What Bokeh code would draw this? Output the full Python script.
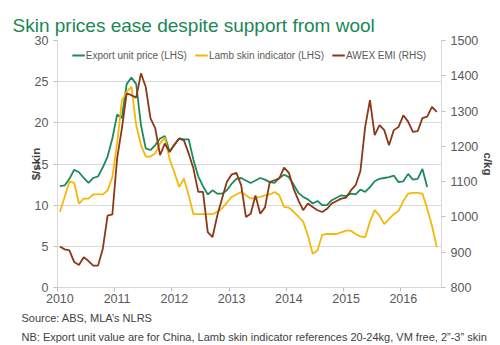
import numpy as np
from bokeh.plotting import figure
from bokeh.models import Range1d, LinearAxis, FixedTicker, Title, Legend, LegendItem
from bokeh.embed import file_html
from bokeh.resources import INLINE

# ---- data (monthly, starting January 2010) ----
years = [2010, 2011, 2012, 2013, 2014, 2015, 2016]

export_unit_price = [
    12.3, 12.4, 13.2, 14.3, 14.0, 13.3, 12.7, 13.3, 13.5, 14.6,
    15.9, 18.1, 21.0, 20.6, 24.7, 25.5, 24.7, 19.7, 16.9, 16.7,
    17.3, 18.1, 18.4, 16.5, 17.3, 18.1, 18.0, 18.0, 15.5, 13.5,
    12.3, 11.3, 11.8, 11.4, 11.4, 11.8, 12.6, 13.2, 13.3, 13.0,
    12.7, 13.0, 13.3, 13.1, 12.8, 12.7, 13.3, 13.7, 13.4, 12.5,
    11.5, 11.0, 10.7, 10.2, 10.5, 10.0, 10.0, 10.6, 10.9, 11.2,
    11.1, 11.4, 11.3, 11.9, 11.6, 12.2, 12.9, 13.2, 13.3, 13.4,
    13.6, 12.8, 12.9, 13.8, 13.1, 13.2, 14.4, 12.2]

lamb_skin_indicator = [
    9.2, 11.0, 12.9, 12.7, 10.2, 10.8, 10.8, 11.3, 11.3, 11.3,
    11.8, 13.4, 17.5, 22.7, 23.8, 24.4, 19.7, 17.3, 15.9, 15.9,
    16.3, 17.5, 18.2, 15.6, 14.0, 12.2, 13.2, 11.2, 8.9, 8.9,
    8.9, 8.9, 8.9, 9.2, 9.6, 10.3, 11.0, 11.3, 11.6, 11.2,
    10.8, 10.9, 11.0, 11.2, 11.3, 11.6, 11.2, 9.8, 9.7, 9.2,
    8.6, 8.0, 6.3, 4.1, 4.5, 6.4, 6.5, 6.5, 6.5, 6.7,
    6.9, 6.9, 6.5, 6.2, 6.1, 8.0, 9.4, 8.7, 7.7, 8.3,
    8.9, 9.3, 10.5, 11.4, 11.5, 11.5, 11.4, 9.6, 7.5, 4.9]

awex_emi = [
    916, 908, 905, 872, 864, 886, 875, 862, 862, 910,
    1004, 1007, 1166, 1251, 1350, 1345, 1338, 1407, 1368, 1279,
    1251, 1175, 1208, 1184, 1205, 1222, 1217, 1180, 1137, 1071,
    1071, 957, 943, 1004, 1052, 1099, 1120, 1125, 1090, 1000,
    1009, 1061, 1009, 1027, 1099, 1104, 1109, 1140, 1125, 1080,
    1047, 1019, 1038, 1028, 1019, 1014, 1023, 1038, 1045, 1052,
    1055, 1075, 1090, 1130, 1255, 1331, 1232, 1260, 1246, 1203,
    1246, 1255, 1288, 1270, 1241, 1243, 1280, 1284, 1312, 1298]

lhs_ticks = [0, 5, 10, 15, 20, 25, 30]
rhs_ticks = [800, 900, 1000, 1100, 1200, 1300, 1400, 1500]

# ---- styling ----
FONT = "Liberation Sans"
GREEN = "#1c8a5a"
TITLE_GREEN = "#1a8754"
YELLOW = "#f5b80a"
BROWN = "#8c3716"
GRID = "#d9d9d9"
TXT = "#595959"

n_months = len(awex_emi)
x_all = np.arange(n_months) + 0.5          # centre of each month
x_exp = np.arange(len(export_unit_price)) + 0.5

p = figure(width=500, height=345, output_backend="svg", toolbar_location=None,
           x_range=Range1d(0, n_months + 0.5), y_range=Range1d(0, 30),
           min_border_left=57, min_border_right=59, min_border_top=40,
           min_border_bottom=58)
p.extra_y_ranges = {"rhs": Range1d(800, 1500)}
p.outline_line_color = None
p.background_fill_color = "white"
p.border_fill_color = "white"

# title
p.title.text = "Skin prices ease despite support from wool"
p.title.text_font = FONT
p.title.text_font_size = "19px"
p.title.text_font_style = "normal"
p.title.text_color = TITLE_GREEN
p.title.align = "left"
p.title.offset = -45
p.title.standoff = 10

# lines
r_exp = p.line(x_exp, export_unit_price, color=GREEN, line_width=1.8)
r_lamb = p.line(x_all, lamb_skin_indicator, color=YELLOW, line_width=1.8)
r_awex = p.line(x_all, awex_emi, color=BROWN, line_width=1.8, y_range_name="rhs")

# x axis
xa = p.xaxis[0]
xa.ticker = FixedTicker(ticks=[12 * i + 0.5 for i in range(len(years))],
                        minor_ticks=[12 * i for i in range(len(years))])
xa.major_label_overrides = {12 * i + 0.5: str(y) for i, y in enumerate(years)}
xa.major_tick_out = 0
xa.major_tick_in = 0
xa.minor_tick_out = 4
xa.minor_tick_in = 0
xa.minor_tick_line_color = "#bfbfbf"
xa.axis_line_color = GRID
xa.major_label_text_font = FONT
xa.major_label_text_font_size = "12.5px"
xa.major_label_text_color = TXT
xa.major_label_standoff = 2

# left axis
ya = p.yaxis[0]
ya.ticker = FixedTicker(ticks=lhs_ticks)
ya.axis_label = "$/skin"
ya.axis_label_text_font = FONT
ya.axis_label_text_font_size = "11.5px"
ya.axis_label_text_font_style = "bold"
ya.axis_label_text_color = "#404040"
ya.axis_label_standoff = -10
ya.major_tick_out = 4
ya.major_tick_in = 0
ya.minor_tick_out = 0
ya.minor_tick_in = 0
ya.major_tick_line_color = "#bfbfbf"
ya.axis_line_color = GRID
ya.major_label_text_font = FONT
ya.major_label_text_font_size = "12.5px"
ya.major_label_text_color = TXT
ya.major_label_standoff = 5

# right axis
ra = LinearAxis(y_range_name="rhs", ticker=FixedTicker(ticks=rhs_ticks), axis_label="c/kg")
ra.axis_label_text_font = FONT
ra.axis_label_text_font_size = "11.5px"
ra.axis_label_text_font_style = "bold"
ra.axis_label_text_color = "#404040"
ra.axis_label_standoff = 1
ra.major_tick_out = 4
ra.major_tick_in = 0
ra.minor_tick_out = 0
ra.minor_tick_in = 0
ra.major_tick_line_color = "#bfbfbf"
ra.axis_line_color = GRID
ra.major_label_text_font = FONT
ra.major_label_text_font_size = "12.5px"
ra.major_label_text_color = TXT
ra.major_label_standoff = 5
p.add_layout(ra, "right")

# grid
p.xgrid.visible = False
p.ygrid.grid_line_color = GRID
p.ygrid.ticker = FixedTicker(ticks=lhs_ticks)

# legend
legend = Legend(items=[LegendItem(label="Export unit price (LHS)", renderers=[r_exp]),
                       LegendItem(label="Lamb skin indicator (LHS)", renderers=[r_lamb]),
                       LegendItem(label="AWEX EMI (RHS)", renderers=[r_awex])],
                location="top_center", orientation="horizontal",
                background_fill_alpha=0, border_line_color=None,
                label_text_font=FONT, label_text_font_size="10px",
                label_text_color=TXT, glyph_width=13, glyph_height=12,
                label_standoff=1, spacing=8, padding=0, margin=9)
p.add_layout(legend)

# footnotes
src = Title(text="Source: ABS, MLA\u2019s NLRS", align="left", offset=-36,
            text_font=FONT, text_font_size="11px", text_font_style="normal",
            text_color="#404040", standoff=9)
nb = Title(text="NB: Export unit value are for China, Lamb skin indicator references 20-24kg, VM free, 2\u201d-3\u201d skin",
           align="left", offset=-36, text_font=FONT, text_font_size="11px",
           text_font_style="normal", text_color="#404040", standoff=0)
p.add_layout(src, "below")
p.add_layout(nb, "below")

open("out.html", "w").write(file_html(p, INLINE))
